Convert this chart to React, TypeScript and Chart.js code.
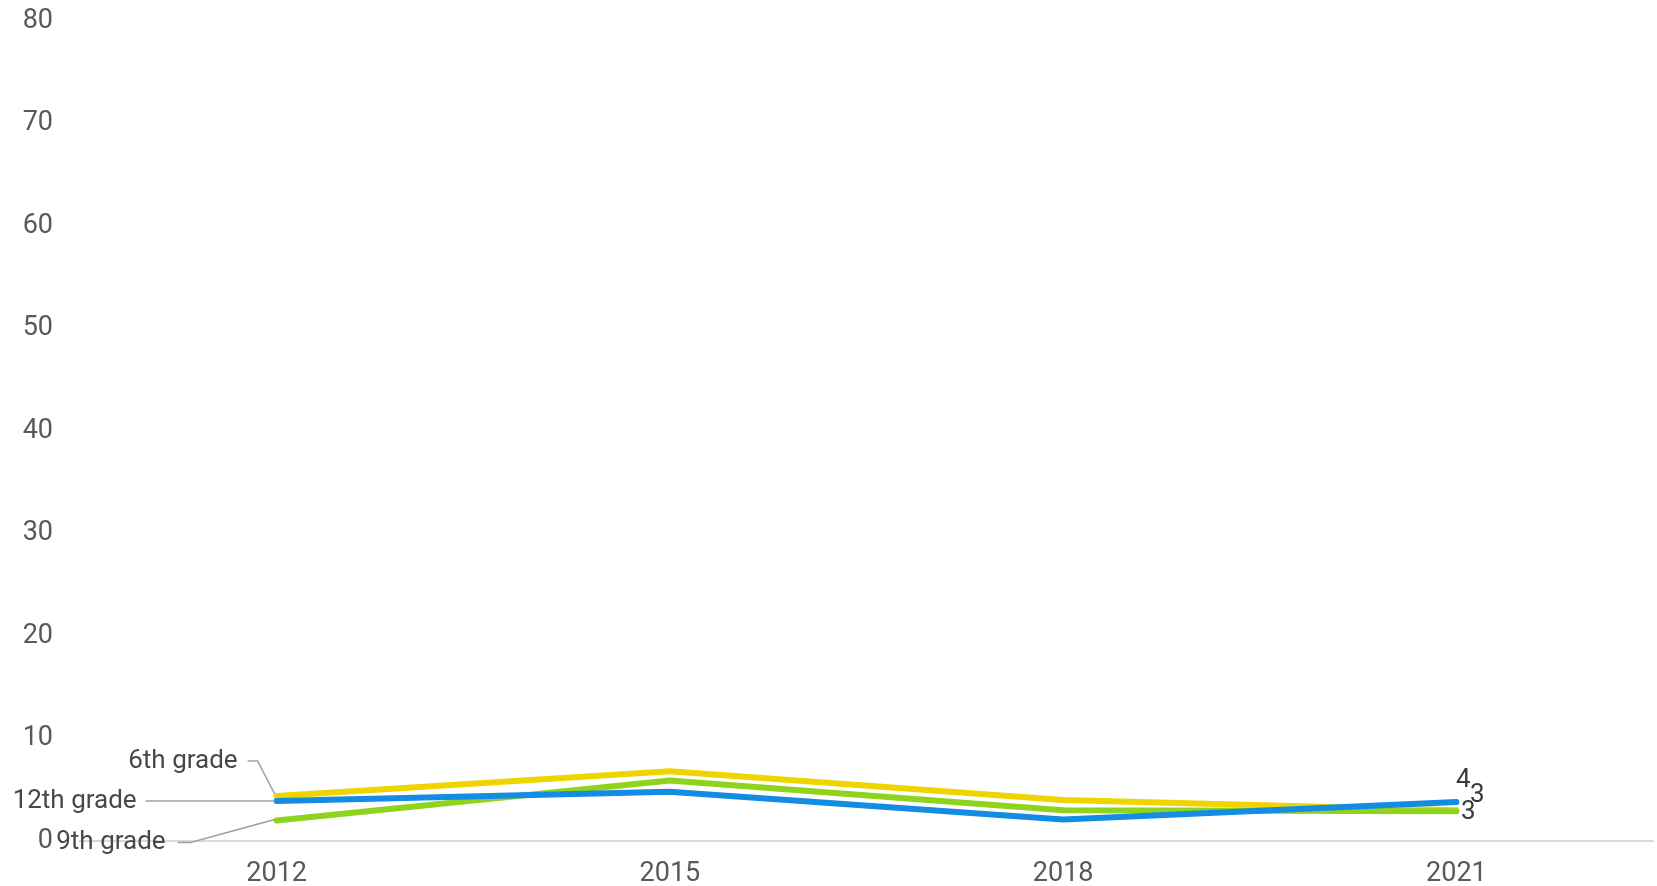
import React, { useEffect, useRef } from 'react';
import { Chart, registerables } from 'chart.js';

Chart.register(...registerables);

const years = ['2012', '2015', '2018', '2021'];
const grade6 = [4.4, 6.8, 4.0, 3.0];
const grade9 = [2.0, 5.9, 3.0, 2.9];
const grade12 = [3.9, 4.8, 2.1, 3.8];
const seriesNames = ['6th grade', '9th grade', '12th grade'];
const endLabels = ['3', '3', '4'];
const yMin = 0;
const yMax = 80;
const yStep = 10;

const FONT = 'Roboto, "Liberation Sans", Arial, sans-serif';
const colors = ['rgb(240,212,0)', 'rgb(143,212,28)', 'rgb(20,140,228)'];

// label placement offsets (relative to first point) per series
const leaderStyles = [
  { pts: [[-29, -35], [-19, -35], [-2, -2]], text: [-39, -34] },
  { pts: [[-99, 22], [-86, 22], [-2, -1]], text: [-111, 22] },
  { pts: [[-131, 0], [-2, 0]], text: [-140, 0] },
];
const endOffsets = [
  [21, -15],
  [12, 1],
  [7, -22],
];

const annotationPlugin = {
  id: 'annot',
  afterDatasetsDraw(chart: any) {
    const ctx = chart.ctx;
    ctx.save();
    chart.data.datasets.forEach((ds: any, i: number) => {
      const meta = chart.getDatasetMeta(i);
      const first = meta.data[0];
      const last = meta.data[meta.data.length - 1];
      const st = leaderStyles[i];
      ctx.strokeStyle = '#a0a0a0';
      ctx.lineWidth = 1.5;
      ctx.beginPath();
      st.pts.forEach((p, k) => {
        const x = first.x + p[0];
        const y = first.y + p[1];
        if (k === 0) ctx.moveTo(x, y);
        else ctx.lineTo(x, y);
      });
      ctx.stroke();
      ctx.font = `26px ${FONT}`;
      ctx.fillStyle = '#484848';
      ctx.textAlign = 'right';
      ctx.textBaseline = 'middle';
      ctx.fillText(seriesNames[i], first.x + st.text[0], first.y + st.text[1]);
      ctx.fillStyle = '#3a3a3a';
      ctx.textAlign = 'center';
      ctx.fillText(endLabels[i], last.x + endOffsets[i][0], last.y + endOffsets[i][1]);
    });
    ctx.restore();
  },
};

export default function App() {
  const ref = useRef<HTMLCanvasElement | null>(null);
  useEffect(() => {
    if (!ref.current) return;
    const chart = new Chart(ref.current, {
      type: 'line',
      data: {
        labels: years,
        datasets: [
          { label: seriesNames[0], data: grade6, borderColor: colors[0], order: 2 },
          { label: seriesNames[1], data: grade9, borderColor: colors[1], order: 1 },
          { label: seriesNames[2], data: grade12, borderColor: colors[2], order: 0 },
        ].map((d) => ({
          ...d,
          borderWidth: 6,
          pointRadius: 0,
          tension: 0,
          fill: false,
          borderCapStyle: 'round' as const,
          borderJoinStyle: 'round' as const,
        })),
      },
      options: {
        animation: false,
        responsive: false,
        maintainAspectRatio: false,
        layout: { padding: { top: 21, left: 0, right: 4, bottom: 0 } },
        plugins: { legend: { display: false }, tooltip: { enabled: false } },
        scales: {
          x: {
            type: 'category',
            offset: true,
            grid: { display: false, drawTicks: false, tickLength: 0 },
            border: { display: true, color: '#d9d9d9', width: 2 },
            ticks: {
              color: '#595959',
              font: { family: FONT, size: 27 },
              padding: 17,
              maxRotation: 0,
            },
            afterFit: (s: any) => {
              s.height = 45;
              s.paddingLeft = 0;
              s.paddingRight = 0;
            },
          },
          y: {
            min: yMin,
            max: yMax,
            grid: { display: false, drawTicks: false, tickLength: 0 },
            border: { display: false },
            ticks: {
              stepSize: yStep,
              color: '#595959',
              font: { family: FONT, size: 27 },
              padding: 27,
            },
            afterFit: (s: any) => {
              s.width = 80;
              s.paddingTop = 0;
              s.paddingBottom = 0;
            },
          },
        },
      },
      plugins: [annotationPlugin],
    });
    return () => chart.destroy();
  }, []);
  return (
    <div style={{ position: 'absolute', left: 0, top: 0, width: 1657, height: 886 }}>
      <canvas ref={ref} width={1657} height={886} style={{ display: 'block' }} />
    </div>
  );
}
